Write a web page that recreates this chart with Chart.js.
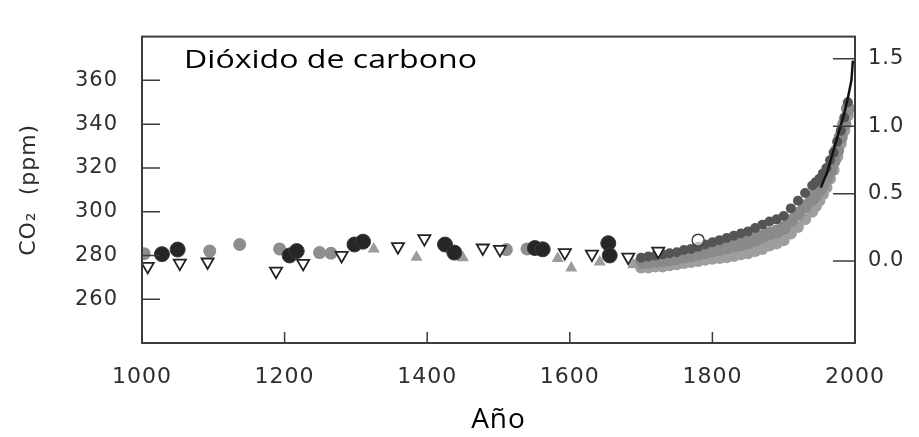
<!DOCTYPE html>
<html>
<head>
<meta charset="utf-8">
<script src="https://cdn.jsdelivr.net/npm/chart.js@4"></script>
<style>
html, body { margin: 0; padding: 0; background: #fff; }
</style>
</head>
<body>
<canvas id="graficaCO2" width="919" height="437"></canvas>
<script>
// ticks
var xTicks = [1000, 1200, 1400, 1600, 1800, 2000];
var co2Ticks = [260, 280, 300, 320, 340, 360];
var forzTicks = [0.0, 0.5, 1.0, 1.5];

// circulos negros
var circYears = [1028, 1050, 1207, 1217, 1298, 1310, 1425, 1438, 1551, 1562, 1654, 1656];
var circCO2 = [280.6, 282.7, 280, 282, 285, 286.3, 285, 281.3, 283.4, 282.8, 285.6, 280];

// triangulos invertidos (abiertos)
var triAbYears = [1008, 1053, 1092, 1188, 1226, 1280, 1359, 1396, 1478, 1502, 1593, 1631, 1682, 1724];
var triAbCO2 = [275, 276.5, 277, 272.8, 276.4, 280, 284, 287.7, 283.4, 282.8, 281.3, 280.6, 279.2, 282];

// triangulos grises
var triGrYears = [1325, 1385, 1450, 1583, 1602, 1642, 1689];
var triGrCO2 = [283, 279.2, 279, 278.6, 274.3, 277, 275.7];

// manchas grises
var grisYears = [1003, 1095, 1137, 1193, 1249, 1265, 1511, 1540];
var grisCO2 = [280.8, 282, 285, 283, 281.3, 281, 282.7, 283];

// circulo abierto
var circAbYears = [1780];
var circAbCO2 = [287];

// banda densa de nucleos de hielo
var bandaYears = [1700, 1710, 1720, 1730, 1740, 1750, 1760, 1770, 1780, 1790, 1800, 1810, 1820, 1830, 1840,
                  1850, 1860, 1870, 1880, 1890, 1900, 1910, 1920, 1930, 1940, 1945, 1950, 1955, 1960, 1965,
                  1970, 1975, 1980, 1985, 1990];
var bandaSup = [279, 279.5, 280, 280.5, 281, 281.5, 282.5, 283, 284, 285, 286, 287, 288, 289, 290,
                291, 292.5, 294, 295.5, 296.5, 298, 301.5, 305, 308.5, 312, 313.5, 315, 317.5, 320, 323.5,
                327, 332, 337, 343, 350];
var bandaMed = [276.8, 277, 277.5, 277.8, 278.2, 278.8, 279.5, 280, 280.8, 281.5, 282.2, 283, 283.6, 284.4, 285.2,
                286, 287.2, 288.5, 290, 291, 292.5, 295.8, 299, 302.5, 306, 308, 310, 312.5, 315.5, 319,
                323, 328, 334, 340, 347];
var bandaInf = [274.5, 274.5, 275, 275, 275.5, 276, 276.5, 277, 277.5, 278, 278.5, 278.8, 279.2, 279.8, 280.5,
                281, 282, 283, 284.5, 285.5, 287, 290, 293, 296.5, 300, 302.5, 305, 308, 311, 315,
                319, 325, 331, 337, 344];

// medicion directa (linea negra)
var lineaYears = [1952, 1961, 1976, 1985, 1990, 1995, 1997];
var lineaCO2 = [311, 318, 335, 345, 352, 360, 369];

function pares(xs, ys) {
    return xs.map(function (x, i) { return { x: x, y: ys[i] }; });
}

var colorTexto = '#2e2e2e';

var marcoPlugin = {
    id: 'marco',
    beforeDraw: function (chart) {
        chart.ctx.letterSpacing = '1px';
    },
    afterDraw: function (chart) {
        var ctx = chart.ctx, a = chart.chartArea;
        var sx = chart.scales.x, sy = chart.scales.y, sy2 = chart.scales.y2;
        ctx.save();
        ctx.letterSpacing = '0px';
        ctx.strokeStyle = '#3c3c3c';
        ctx.lineWidth = 2;
        ctx.strokeRect(a.left, a.top, a.right - a.left, a.bottom - a.top);

        // marcas hacia dentro
        ctx.lineWidth = 1.5;
        ctx.beginPath();
        sx.ticks.forEach(function (t) {
            if (t.value > sx.min && t.value < sx.max) {
                var px = sx.getPixelForValue(t.value);
                ctx.moveTo(px, a.bottom);
                ctx.lineTo(px, a.bottom - 11);
            }
        });
        sy.ticks.forEach(function (t) {
            var py = sy.getPixelForValue(t.value);
            ctx.moveTo(a.left, py);
            ctx.lineTo(a.left + 18, py);
        });
        sy2.ticks.forEach(function (t) {
            var py = sy2.getPixelForValue(t.value);
            ctx.moveTo(a.right, py);
            ctx.lineTo(a.right - 22, py);
        });
        ctx.stroke();

        // rotulo
        var texto = 'Dióxido de carbono';
        ctx.font = '25px "Open Sans"';
        ctx.fillStyle = '#000';
        ctx.textBaseline = 'alphabetic';
        var w = ctx.measureText(texto).width;
        ctx.translate(184, 68);
        ctx.scale(293 / w, 1);
        ctx.fillText(texto, 0, 0);
        ctx.restore();
    }
};

var ctx = document.getElementById('graficaCO2').getContext('2d');
var myChart = new Chart(ctx, {
    type: 'scatter',
    data: {
        datasets: [{
            data: pares(lineaYears, lineaCO2),
            showLine: true,
            borderColor: '#111',
            borderWidth: 2.5,
            pointRadius: 0,
            tension: 0
        }, {
            data: pares(circAbYears, circAbCO2),
            pointStyle: 'circle',
            pointRadius: 6,
            backgroundColor: 'rgba(255,255,255,0.6)',
            borderColor: '#444',
            borderWidth: 1.5
        }, {
            data: pares(circYears, circCO2),
            pointStyle: 'circle',
            pointRadius: 7.5,
            backgroundColor: '#262626',
            borderColor: '#3a3a3a',
            borderWidth: 1
        }, {
            data: pares(triAbYears, triAbCO2),
            pointStyle: 'triangle',
            rotation: 180,
            pointRadius: 7,
            backgroundColor: '#fff',
            borderColor: '#222',
            borderWidth: 1.8
        }, {
            data: pares(triGrYears, triGrCO2),
            pointStyle: 'triangle',
            pointRadius: 7,
            backgroundColor: '#9c9c9c',
            borderWidth: 0
        }, {
            data: pares(grisYears, grisCO2),
            pointStyle: 'circle',
            pointRadius: 6.5,
            backgroundColor: '#8e8e8e',
            borderWidth: 0
        }, {
            data: pares(bandaYears, bandaSup),
            pointStyle: 'circle',
            pointRadius: 5,
            backgroundColor: '#555555',
            borderWidth: 0
        }, {
            data: pares(bandaYears, bandaMed),
            pointStyle: 'circle',
            pointRadius: 7,
            backgroundColor: '#8a8a8a',
            borderWidth: 0
        }, {
            data: pares(bandaYears, bandaInf),
            pointStyle: 'circle',
            pointRadius: 6,
            backgroundColor: '#9e9e9e',
            borderWidth: 0
        }]
    },
    options: {
        responsive: false,
        animation: false,
        layout: { padding: { top: 14, left: 0, right: 0, bottom: 0 } },
        plugins: {
            legend: { display: false },
            tooltip: { enabled: false }
        },
        scales: {
            x: {
                type: 'linear',
                position: 'bottom',
                min: 1000,
                max: 2000,
                afterBuildTicks: function (s) { s.ticks = xTicks.map(function (v) { return { value: v }; }); },
                afterFit: function (s) { s.height = 94; },
                grid: { display: false, drawTicks: false },
                border: { display: false },
                ticks: {
                    padding: 21,
                    color: colorTexto,
                    maxRotation: 0,
                    autoSkip: false,
                    font: { family: 'DejaVu Sans', size: 22 },
                    callback: function (v) { return String(v); }
                },
                title: {
                    display: true,
                    text: 'Año',
                    color: '#000',
                    font: { family: 'Open Sans', size: 28 },
                    padding: { top: 0, bottom: 0 }
                }
            },
            y: {
                position: 'left',
                min: 240,
                max: 380,
                afterBuildTicks: function (s) { s.ticks = co2Ticks.map(function (v) { return { value: v }; }); },
                afterFit: function (s) { s.width = 142; },
                grid: { display: false, drawTicks: false },
                border: { display: false },
                ticks: {
                    padding: 24,
                    color: colorTexto,
                    font: { family: 'DejaVu Sans', size: 21 }
                },
                title: {
                    display: true,
                    text: 'CO₂  (ppm)',
                    color: colorTexto,
                    font: { family: 'DejaVu Sans', size: 22 },
                    padding: { top: 16, bottom: 0 }
                }
            },
            y2: {
                position: 'right',
                min: -0.608,
                max: 1.665,
                afterBuildTicks: function (s) { s.ticks = forzTicks.map(function (v) { return { value: v }; }); },
                afterFit: function (s) { s.width = 64; },
                grid: { display: false, drawTicks: false },
                border: { display: false },
                ticks: {
                    padding: 13,
                    color: colorTexto,
                    font: { family: 'DejaVu Sans', size: 21 },
                    callback: function (v) { return v.toFixed(1); }
                }
            }
        }
    },
    plugins: [marcoPlugin]
});
</script>
</body>
</html>
